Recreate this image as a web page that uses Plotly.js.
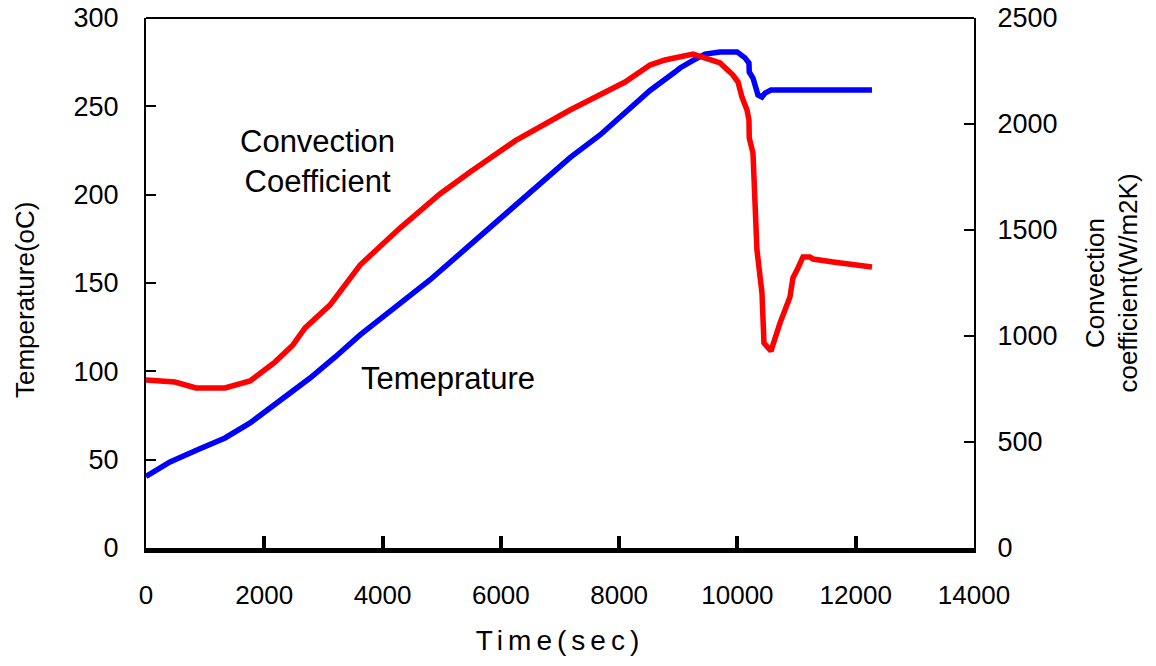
<!DOCTYPE html>
<html>
<head>
<meta charset="utf-8">
<script src="https://cdn.plot.ly/plotly-3.0.1.min.js"></script>
<style>
html,body{margin:0;padding:0;background:#fff;}
#chart{width:1156px;height:666px;}
.xtitle{letter-spacing:5px;}
</style>
</head>
<body>
<div id="chart"></div>
<script>
// Temperature (left axis)
const tempTime = [0, 406, 862, 1336, 1760, 2267, 2774, 3195, 3620, 4800, 6240, 7170, 7677, 8522, 8944, 9030, 9250, 9453, 9707, 9994, 10128, 10195, 10200, 10263, 10348, 10415, 10466, 10567, 12275];
const tempValues = [40.5, 48.7, 55.5, 62.3, 70.8, 83.8, 96.2, 108, 120.6, 151.7, 194, 221, 233.8, 259, 269.4, 271.7, 276, 279.6, 280.8, 280.8, 277.4, 274.5, 269.4, 266, 256.4, 255.3, 257.5, 259.2, 259.2];

// Convection coefficient (right axis)
const convTime = [0, 490, 845, 1336, 1760, 2180, 2485, 2690, 3110, 3620, 4295, 4970, 5480, 6240, 7170, 8100, 8522, 8775, 9250, 9707, 9925, 10010, 10077, 10162, 10195, 10200, 10263, 10297, 10330, 10415, 10449, 10567, 10719, 10888, 10939, 11024, 11108, 11227, 11278, 11616, 12275];
const convValues = [792, 783, 755, 755, 788, 877, 958, 1038, 1146, 1335, 1509, 1670, 1774, 1920, 2066, 2198, 2278, 2302, 2330, 2288, 2231, 2198, 2127, 2066, 2019, 1934, 1863, 1689, 1406, 1203, 967, 929, 1061, 1184, 1274, 1321, 1373, 1373, 1363, 1349, 1325];

const xTicks = [0, 2000, 4000, 6000, 8000, 10000, 12000, 14000];
const yTicks = [0, 50, 100, 150, 200, 250, 300];
const y2Ticks = [0, 500, 1000, 1500, 2000, 2500];

const traces = [
  {x: tempTime, y: tempValues, type: 'scatter', mode: 'lines', name: 'Temeprature',
   line: {color: '#0000ff', width: 5.5}, yaxis: 'y'},
  {x: convTime, y: convValues, type: 'scatter', mode: 'lines', name: 'Convection Coefficient',
   line: {color: '#ff0000', width: 5.5}, yaxis: 'y2'}
];

const SANS = 'Liberation Sans, Arial, sans-serif';
const NARROW = 'Liberation Sans Narrow, Arial Narrow, sans-serif';
const tickFont = {family: SANS, size: 27, color: '#000'};

const layout = {
  width: 1156, height: 666,
  margin: {l: 146, r: 182, t: 18, b: 118},
  paper_bgcolor: '#fff', plot_bgcolor: '#fff',
  showlegend: false,
  xaxis: {
    range: [0, 14000], tickvals: xTicks, ticktext: xTicks.map(String),
    showgrid: false, zeroline: false,
    showline: true, linecolor: '#000', linewidth: 5,
    ticks: 'inside', ticklen: 12, tickwidth: 4, tickcolor: '#000',
    ticklabelstandoff: 20,
    tickfont: {family: NARROW, size: 26, color: '#000'},
    title: {text: 'Time(sec)', standoff: 23,
            font: {family: NARROW, size: 28, color: '#000'}}
  },
  yaxis: {
    range: [0, 300], tickvals: yTicks, ticktext: yTicks.map(String),
    showgrid: false, zeroline: false,
    showline: true, linecolor: '#000', linewidth: 2,
    ticks: 'inside', ticklen: 10, tickwidth: 2, tickcolor: '#000',
    ticklabelstandoff: 20,
    tickfont: tickFont
  },
  yaxis2: {
    range: [0, 2500], tickvals: y2Ticks, ticktext: y2Ticks.map(String),
    overlaying: 'y', side: 'right',
    showgrid: false, zeroline: false,
    showline: true, linecolor: '#000', linewidth: 2,
    ticks: 'inside', ticklen: 10, tickwidth: 2, tickcolor: '#000',
    ticklabelstandoff: 16,
    tickfont: tickFont,
    title: {text: 'Convection<br>coefficient(W/m2K)', standoff: 29,
            font: {family: SANS, size: 26, color: '#000'}}
  },
  shapes: [
    {type: 'line', xref: 'paper', yref: 'paper', x0: 0, x1: 1, y0: 1, y1: 1,
     line: {color: '#000', width: 2}}
  ],
  annotations: [
    {x: -0.146, y: 0.468, xref: 'paper', yref: 'paper', text: 'Temperature(oC)', showarrow: false,
     textangle: -90, xanchor: 'center', yanchor: 'middle',
     font: {family: SANS, size: 26, color: '#000'}},
    {x: 2908, y: 219, xref: 'x', yref: 'y', text: 'Convection<br>Coefficient', showarrow: false,
     font: {family: SANS, size: 31, color: '#000'}, align: 'center'},
    {x: 5107, y: 96.2, xref: 'x', yref: 'y', text: 'Temeprature', showarrow: false,
     font: {family: SANS, size: 31, color: '#000'}}
  ]
};

Plotly.newPlot('chart', traces, layout, {displayModeBar: false, staticPlot: true});
</script>
</body>
</html>
